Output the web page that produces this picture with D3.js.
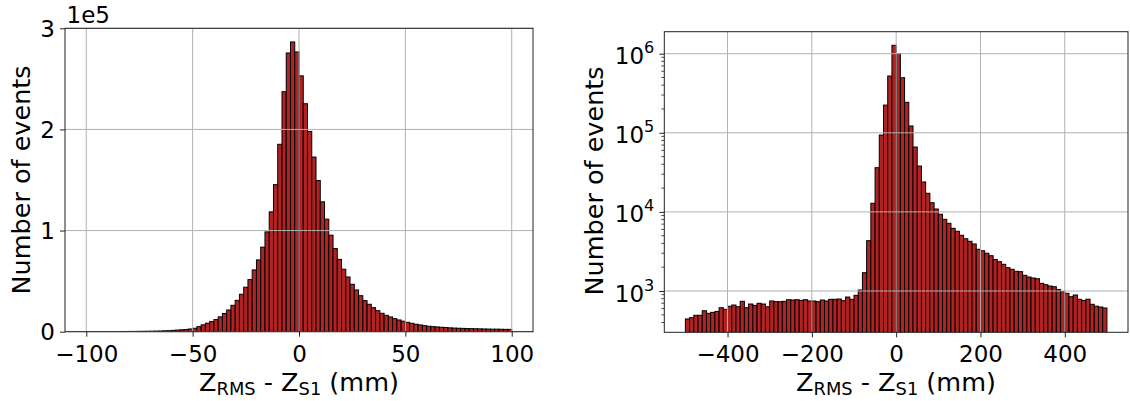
<!DOCTYPE html>
<html><head><meta charset="utf-8">
<script src="https://cdn.jsdelivr.net/npm/d3@7"></script>
<style>body{margin:0;background:#fff} svg{display:block} text{font-family:"DejaVu Sans",sans-serif;fill:#000}</style>
</head><body><svg id="c" width="1130" height="401"></svg>
<script>
// ---- data ----
const leftBinStart = -100, leftBinWidth = 2;
const leftCounts = [
 80, 90, 100, 110, 120, 140, 160, 180, 200, 230, 260, 300, 340, 390, 440,
 500, 600, 700, 900, 1000, 1300, 1600, 1900, 2200, 2700,
 3400, 5000, 6800, 8400, 10000, 12000, 14700, 18000, 21500, 26100, 31000, 37000, 44000,
 51500, 61100, 71000, 83600, 98700, 118500, 145400, 185300, 237300, 275600, 286500, 276600,
 253000, 225400, 198000, 172700, 149500, 128400, 111300, 95400, 82200, 71500,
 61800, 54100, 46900, 41300, 35600, 30700, 27100, 23800, 20800, 18200, 16200, 14600, 12900, 11600, 10400,
 9300, 8300, 7400, 6700, 6000, 5400, 5000, 4700, 4400, 4100, 3800, 3600, 3400, 3300, 3100, 3000, 2900, 2800, 2700, 2600, 2500, 2500, 2400, 2300, 2300
];
const rightBinStart = -500, rightBinWidth = 10;
const rightCounts = [
 443, 460, 493, 493, 563, 522, 537, 552, 615, 587,
 641, 665, 633, 741, 615, 685, 659, 699, 685, 633,
 748, 733, 733, 741, 776, 769, 776, 762, 776, 748,
 748, 733, 769, 748, 785, 785, 792, 755, 839, 785,
 882, 1030, 1703, 4325, 12850, 36200, 93700, 224000, 522000, 1277000,
 1000000, 497000, 243000, 122000, 66100, 38000, 23900, 17200, 13070, 10880,
 9330, 8060, 7170, 6200, 5690, 5060, 4580, 4250, 3930, 3370,
 3230, 3000, 2794, 2500, 2345, 2175, 1972, 1880, 1774, 1754,
 1579, 1503, 1460, 1430, 1251, 1201, 1157, 1133, 1045, 985,
 935, 847, 890, 785, 758, 788, 679, 643, 628, 610
];
const leftXTicks = [-100, -50, 0, 50, 100];
const leftYTicks = [0, 100000, 200000, 300000];
const leftYOffsetText = "1e5";
const rightXTicks = [-400, -200, 0, 200, 400];
const rightYTicks = [1e3, 1e4, 1e5, 1e6];
const yLabel = "Number of events";

// ---- drawing ----
const svg = d3.select("#c");
const TICK_FS = 23, LABEL_FS = 25.5;
const barFill = "#b22222", gridCol = "#b0b0b0";

function fmtMinus(v){ return String(v).replace("-", "\u2212"); }

function panel(opts){
  const {x, y, counts, binStart, binWidth, id, isLog} = opts;
  const [x0, x1] = x.range(); const [yb, yt] = y.range();
  const g = svg.append("g");
  g.append("clipPath").attr("id", id).append("rect")
    .attr("x", x0).attr("y", yt).attr("width", x1 - x0).attr("height", yb - yt);
  const data = counts.map((c, i) => ({lo: binStart + i * binWidth, hi: binStart + (i + 1) * binWidth, c}));
  g.append("g").attr("clip-path", `url(#${id})`).selectAll("rect").data(data).join("rect")
    .attr("x", d => x(d.lo)).attr("width", d => x(d.hi) - x(d.lo))
    .attr("y", d => y(d.c)).attr("height", d => Math.max(0, yb + 2 - y(d.c)))
    .attr("fill", barFill).attr("stroke", "#000").attr("stroke-width", 1);
  // grid
  const grid = g.append("g").attr("stroke", gridCol).attr("stroke-width", 1);
  opts.xTicks.forEach(t => grid.append("line").attr("x1", x(t)).attr("x2", x(t)).attr("y1", yt).attr("y2", yb));
  opts.yTicks.forEach(t => grid.append("line").attr("x1", x0).attr("x2", x1).attr("y1", y(t)).attr("y2", y(t)));
  // spines
  g.append("rect").attr("x", x0).attr("y", yt).attr("width", x1 - x0).attr("height", yb - yt)
    .attr("fill", "none").attr("stroke", "#222").attr("stroke-width", 1);
  // x axis
  const xa = g.append("g").attr("transform", `translate(0,${yb})`)
    .call(d3.axisBottom(x).tickValues(opts.xTicks).tickSize(5).tickPadding(8.5).tickFormat(fmtMinus));
  xa.select(".domain").remove();
  xa.selectAll("line").attr("stroke", "#222");
  xa.selectAll("text").attr("font-size", TICK_FS).attr("font-family", "DejaVu Sans");
  // y axis
  const ya = g.append("g").attr("transform", `translate(${x0},0)`)
    .call(d3.axisLeft(y).tickValues(opts.yTicks).tickSize(5).tickPadding(5).tickFormat(opts.yFmt));
  ya.select(".domain").remove();
  ya.selectAll("line").attr("stroke", "#222");
  ya.selectAll("text").attr("font-size", TICK_FS).attr("font-family", "DejaVu Sans").attr("dy", "0.36em");
  return {g, ya, x0, x1, yb, yt};
}

function xLabel(g, cx, yBase){
  const t = g.append("text").attr("x", cx).attr("y", yBase).attr("text-anchor", "middle")
    .attr("font-size", LABEL_FS);
  t.append("tspan").text("Z");
  t.append("tspan").attr("font-size", LABEL_FS * 0.7).attr("dy", 4).text("RMS");
  t.append("tspan").attr("dy", -4).text(" - Z");
  t.append("tspan").attr("font-size", LABEL_FS * 0.7).attr("dy", 4).text("S1");
  t.append("tspan").attr("dy", -4).text(" (mm)");
}
function yLab(g, xBase, cy){
  g.append("text").attr("transform", `translate(${xBase},${cy}) rotate(-90)`)
    .attr("text-anchor", "middle").attr("font-size", LABEL_FS).text(yLabel);
}

// left panel
const xL = d3.scaleLinear().domain([-110, 110]).range([65, 533]);
const yL = d3.scaleLinear().domain([0, 300000]).range([331.7, 28.3]);
const pL = panel({x: xL, y: yL, counts: leftCounts, binStart: leftBinStart, binWidth: leftBinWidth,
  id: "clipL", xTicks: leftXTicks, yTicks: leftYTicks, yFmt: v => String(v / 100000)});
pL.g.append("text").attr("x", 66.5).attr("y", 23.3).attr("font-size", TICK_FS).text(leftYOffsetText);
xLabel(pL.g, 299, 391);
yLab(pL.g, 29.5, 180);

// right panel
const yR = d3.scaleLog().domain([Math.pow(10, 2.478), Math.pow(10, 6.278)]).range([332.3, 31.7]);
const xR = d3.scaleLinear().domain([-550, 550]).range([664.3, 1128]);
const pR = panel({x: xR, y: yR, counts: rightCounts, binStart: rightBinStart, binWidth: rightBinWidth,
  id: "clipR", xTicks: rightXTicks, yTicks: rightYTicks, yFmt: v => ""});
// log tick labels with superscript
pR.ya.selectAll(".tick text").each(function(d){
  const t = d3.select(this).text(null).attr("dy", null).attr("y", 10);
  t.append("tspan").text("10");
  t.append("tspan").attr("font-size", TICK_FS * 0.7).attr("dy", -11).text(Math.round(Math.log10(d)));
});
// minor ticks
const [dLo, dHi] = yR.domain();
const minor = [];
for (let e = 2; e <= 6; e++) for (let m = 2; m <= 9; m++) { const v = m * Math.pow(10, e); if (v > dLo && v < dHi) minor.push(v); }
pR.g.append("g").selectAll("line").data(minor).join("line")
  .attr("x1", pR.x0 - 3).attr("x2", pR.x0).attr("y1", d => yR(d)).attr("y2", d => yR(d))
  .attr("stroke", "#222").attr("stroke-width", 0.8);
xLabel(pR.g, 896, 391);
yLab(pR.g, 603, 181);
</script></body></html>
